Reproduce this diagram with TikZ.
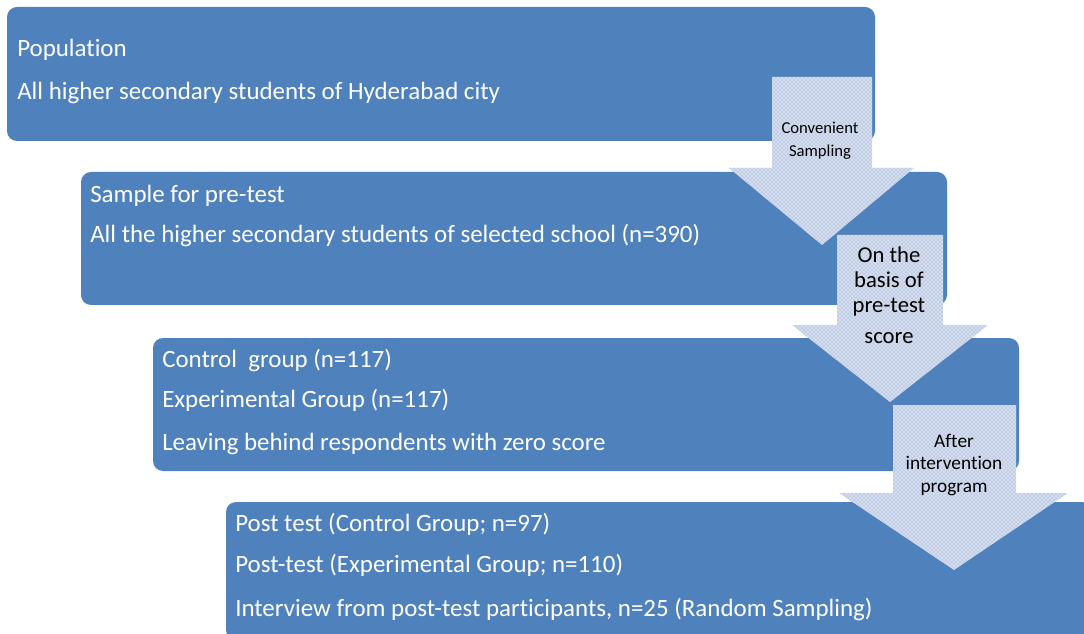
\documentclass[tikz,border=0pt]{standalone}
\usepackage{fontspec}
\setmainfont[Ligatures=NoCommon]{Carlito}
\usetikzlibrary{patterns}
\definecolor{boxblue}{HTML}{4F81BD}
\definecolor{arrfill}{HTML}{D6DEED}
\definecolor{dotblue}{HTML}{7499D0}
\tikzset{
  stagebox/.style={draw=none, fill=boxblue, rounded corners=7.5pt, inner sep=0pt},
  maintext/.style={anchor=base west, text=white, inner sep=0pt, font=\fontsize{18.7}{22}\selectfont},
  arrowshape/.style={fill=arrfill, draw=none, postaction={pattern=crosshatch dots, pattern color=dotblue}},
  arrtext/.style={anchor=base, text=black, inner sep=0pt},
}
\begin{document}
\begin{tikzpicture}[x=0.75pt, y=-0.75pt]
\useasboundingbox (0,0) rectangle (1084,634);
\clip (0,0) rectangle (1084,634);
% boxes
\node[stagebox, minimum width=651pt, minimum height=100.5pt] (b1) at (441,74) {};
\node[stagebox, minimum width=649.5pt, minimum height=99.75pt] (b2) at (514,238.5) {};
\node[stagebox, minimum width=649.5pt, minimum height=99.75pt] (b3) at (586,404.5) {};
\node[stagebox, minimum width=649.5pt, minimum height=103.5pt] (b4) at (659,571) {};
% box texts
\node[maintext] (t11) at (17,57) {Population};
\node[maintext] (t12) at (17,100) {All higher secondary students of Hyderabad city};
\node[maintext] (t21) at (90,203) {Sample for pre-test};
\node[maintext] (t22) at (90,243) {All the higher secondary students of selected school (n=390)};
\node[maintext] (t31) at (162,367) {Control\ \ group (n=117)};
\node[maintext] (t32) at (162,407) {Experimental Group (n=117)};
\node[maintext] (t33) at (162,450) {Leaving behind respondents with zero score};
\node[maintext] (t41) at (235,531) {Post test (Control Group; n=97)};
\node[maintext] (t42) at (235,572) {Post-test (Experimental Group; n=110)};
\node[maintext] (t43) at (235,616) {Interview from post-test participants, n=25 (Random Sampling)};
% arrows
\path[arrowshape] (772,77) -- (872,77) -- (872,168) -- (914,168) -- (822,245) -- (729,168) -- (772,168) -- cycle;
\path[arrowshape] (837,235) -- (943,235) -- (943,325) -- (988,325) -- (890,402) -- (792,325) -- (837,325) -- cycle;
\path[arrowshape] (893,405) -- (1016,405) -- (1016,493) -- (1068,493) -- (954,570) -- (839,493) -- (893,493) -- cycle;
% arrow texts
\node[arrtext, font=\fontsize{12.5}{14}\selectfont] (a11) at (820,134) {Convenient};
\node[arrtext, font=\fontsize{12.5}{14}\selectfont] (a12) at (820,157) {Sampling};
\node[arrtext, font=\fontsize{17}{20}\selectfont] (a21) at (889,263) {On the};
\node[arrtext, font=\fontsize{17}{20}\selectfont] (a22) at (889,288) {basis of};
\node[arrtext, font=\fontsize{17}{20}\selectfont] (a23) at (889,313) {pre-test};
\node[arrtext, font=\fontsize{17}{20}\selectfont] (a24) at (889,344) {score};
\node[arrtext, font=\fontsize{14.5}{17}\selectfont] (a31) at (954,447) {After};
\node[arrtext, font=\fontsize{14.5}{17}\selectfont] (a32) at (954,469) {intervention};
\node[arrtext, font=\fontsize{14.5}{17}\selectfont] (a33) at (954,492) {program};
\end{tikzpicture}
\end{document}
